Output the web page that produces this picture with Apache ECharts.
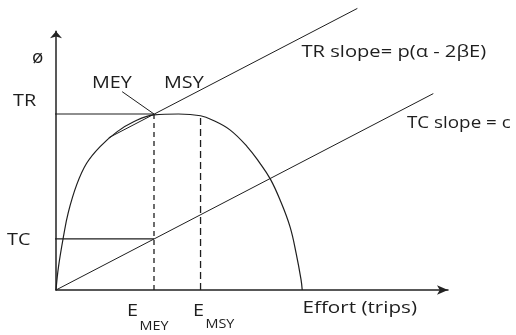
<!DOCTYPE html>
<html>
<head>
<meta charset="utf-8">
<script src="https://cdn.jsdelivr.net/npm/echarts@6/dist/echarts.min.js"></script>
<style>
  html, body { margin: 0; padding: 0; background: #fff; }
  #main { width: 516px; height: 335px; }
</style>
</head>
<body>
<div id="main"></div>
<script>
// total revenue curve (effort -> revenue)
var curveEffort  = [0, 1, 3, 5, 8.5, 12.5, 18, 25, 31.5, 40, 50, 59, 64, 71, 78, 83, 87.5, 91.5, 95.5, 98, 100, 100.5];
var curveRevenue = [0, 13, 30, 44, 60, 72, 81.5, 90, 95.5, 99.5, 100, 99, 96.5, 91, 81.5, 72.5, 63, 51, 36, 21, 6, 0];

// key effort levels and values
var eMey = 40;
var eMsy = 59;
var trAtMey = 100;
var trAtMsy = 99;
var tcAtMey = 29;

// straight lines: [effort, value] end points
var trSlopeLine = [[21.5, 86.5], [123, 160]];
var tcSlopeLine = [[0, 0], [154, 111.6]];
var meyPointer  = [[27, 112.7], [40, 100]];

var chart = echarts.init(document.getElementById('main'));

var ink = '#1e1e1e';
var font = 'Open Sans';

function seg(data, extra) {
  var s = {
    type: 'line',
    data: data,
    symbol: 'none',
    silent: true,
    clip: false,
    animation: false,
    lineStyle: { color: ink, width: 1 }
  };
  for (var k in extra) s[k] = extra[k];
  return s;
}

// x,y = left edge / vertical middle of the text
function txt(x, y, text, size, sx) {
  return {
    type: 'text',
    x: x,
    y: y,
    scaleX: sx || 1.2,
    style: {
      text: text,
      fill: ink,
      font: size + 'px "' + font + '"',
      textAlign: 'left',
      textVerticalAlign: 'middle'
    }
  };
}

var option = {
  backgroundColor: '#fff',
  animation: false,
  grid: { left: 56, top: 31.3, width: 392, height: 258.7 },
  xAxis: {
    type: 'value', min: 0, max: 160,
    axisLine: { show: true, lineStyle: { color: '#222', width: 1.5 }, symbol: ['none', 'arrow'], symbolSize: [7, 11] },
    axisTick: { show: false }, axisLabel: { show: false }, splitLine: { show: false }
  },
  yAxis: {
    type: 'value', min: 0, max: 147,
    axisLine: { show: true, lineStyle: { color: '#222', width: 1.5 }, symbol: ['none', 'arrow'], symbolSize: [9, 7] },
    axisTick: { show: false }, axisLabel: { show: false }, splitLine: { show: false }
  },
  series: [
    seg(curveEffort.map(function (e, i) { return [e, curveRevenue[i]]; }),
        { smooth: 0.4, lineStyle: { color: ink, width: 1.2 } }),
    seg(trSlopeLine),
    seg(tcSlopeLine),
    seg([[-1, trAtMey], [eMey, trAtMey]], { lineStyle: { color: ink, width: 1.2 } }),
    seg([[-1.2, tcAtMey], [eMey, tcAtMey]], { lineStyle: { color: ink, width: 1.2 } }),
    seg(meyPointer),
    seg([[eMey, 0], [eMey, trAtMey]], { lineStyle: { color: ink, width: 1.3, type: [5, 4] } }),
    seg([[eMsy, 0], [eMsy, trAtMsy]], { lineStyle: { color: ink, width: 1.3, type: [7, 4] } })
  ],
  graphic: [
    txt(32, 58, 'ø', 18, 1.05),
    txt(13, 101, 'TR', 16.5),
    txt(7, 240, 'TC', 16.5),
    txt(92, 83, 'MEY', 16.5),
    txt(164, 83, 'MSY', 16.5),
    txt(301.5, 52, 'TR slope= p(α - 2βE)', 16.5, 1.22),
    txt(407, 123, 'TC slope = c', 16.5, 1.14),
    txt(302.5, 308, 'Effort (trips)', 16.5, 1.25),
    txt(127, 311, 'E', 16.5),
    txt(139.5, 327, 'MEY', 12),
    txt(193, 311, 'E', 16.5),
    txt(205.5, 325, 'MSY', 12)
  ]
};

chart.setOption(option);
</script>
</body>
</html>
